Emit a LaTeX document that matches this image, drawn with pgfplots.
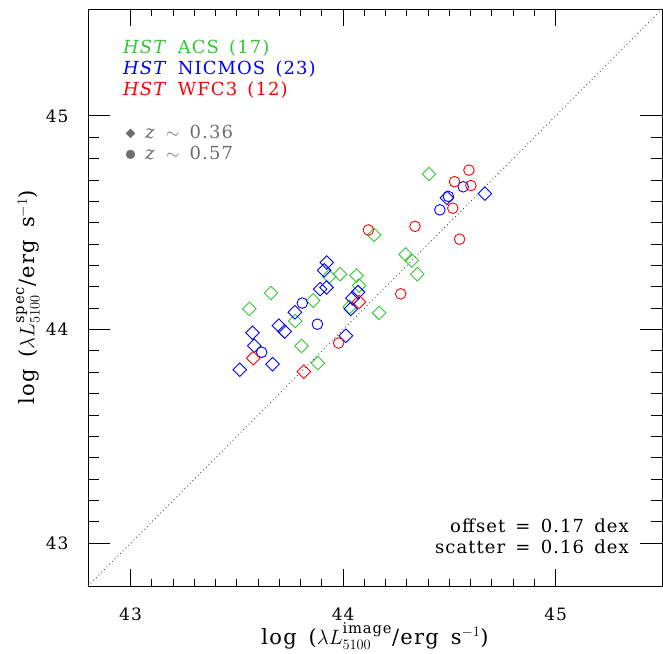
\documentclass[border=0pt]{standalone}
\usepackage{amsmath}
\usepackage{pgfplots}
\pgfplotsset{compat=1.18}
\usepackage{fontspec}
\setmainfont{DejaVu Serif}
\newfontfamily\lsf[LetterSpace=6,WordSpace=1.5]{DejaVu Serif}
\definecolor{cgreen}{RGB}{50,200,50}
\definecolor{cblue}{RGB}{0,0,255}
\definecolor{cred}{RGB}{255,0,0}
\definecolor{cgray}{RGB}{110,110,110}
\begin{document}
\begin{tikzpicture}
\begin{axis}[
  name=ax,
  scale only axis, width=574pt, height=577pt,
  xmin=42.8, xmax=45.5, ymin=42.8, ymax=45.5,
  xtick={43,44,45}, ytick={43,44,45},
  minor tick num=9,
  tick align=inside,
  clip=false,
  axis line style={line width=0.9pt},
  tick style={line width=0.9pt, black},
  major x tick style={/pgfplots/major tick length=17pt},
  minor x tick style={/pgfplots/minor tick length=7.5pt},
  major y tick style={/pgfplots/major tick length=22pt},
  minor y tick style={/pgfplots/minor tick length=11pt},
  /pgf/number format/assume math mode=true,
  xticklabel style={font=\lsf\fontsize{17}{20}\selectfont, yshift=-18pt},
  yticklabel style={font=\lsf\fontsize{17}{20}\selectfont, xshift=-16pt},
  dmk/.style={only marks, mark=square, mark size=4.8pt, mark options={rotate=45, line width=0.9pt}},
  cmk/.style={only marks, mark=o, mark size=5.3pt, mark options={line width=0.9pt}},
]
\addplot[no marks, black!70, line width=1pt, dash pattern=on 0.8pt off 3pt] coordinates {(42.8,42.8) (45.5,45.5)};
% ACS (green)
\addplot[dmk, cgreen] coordinates {
(44.404,44.728) (44.146,44.443) (44.294,44.352) (44.323,44.323) (44.349,44.259)
(44.169,44.078) (43.934,44.248) (43.986,44.259) (44.063,44.253) (44.075,44.206)
(43.661,44.171) (43.859,44.136) (44.031,44.106) (43.559,44.097) (43.775,44.040)
(43.804,43.923) (43.881,43.843)};
% NICMOS (blue)
\addplot[dmk, cblue] coordinates {
(44.667,44.636) (44.488,44.616) (43.923,44.314) (43.911,44.277) (43.892,44.189)
(43.922,44.197) (44.070,44.175) (44.044,44.147) (44.036,44.096) (43.773,44.081)
(43.698,44.018) (43.725,43.991) (43.574,43.985) (43.582,43.924) (44.013,43.971)
(43.668,43.838) (43.514,43.812)};
\addplot[cmk, cblue] coordinates {
(44.565,44.668) (44.495,44.623) (44.455,44.560) (43.808,44.124) (43.879,44.025)
(43.617,43.894)};
% WFC3 (red)
\addplot[cmk, cred] coordinates {
(44.592,44.746) (44.524,44.692) (44.601,44.674) (44.516,44.568) (44.119,44.466)
(44.338,44.483) (44.548,44.423) (44.271,44.167) (43.979,43.937)};
\addplot[dmk, cred] coordinates {
(44.075,44.129) (43.577,43.866) (43.815,43.803)};
% legend symbols
\addplot[only marks, mark=square*, mark size=3.2pt, mark options={rotate=45, fill=cgray, draw=cgray}] coordinates {(43.0,44.918)};
\addplot[only marks, mark=*, mark size=4.4pt, mark options={fill=cgray, draw=cgray}] coordinates {(43.0,44.820)};
\end{axis}
\begin{scope}[font=\lsf\fontsize{18}{20}\selectfont]
\node[anchor=base west, cgreen, inner sep=0pt] at ([shift={(35pt,-44.3pt)}]ax.north west) {\textit{HST} ACS (17)};
\node[anchor=base west, cblue, inner sep=0pt] at ([shift={(35pt,-66pt)}]ax.north west) {\textit{HST} NICMOS (23)};
\node[anchor=base west, cred, inner sep=0pt] at ([shift={(35pt,-87pt)}]ax.north west) {\textit{HST} WFC3 (12)};
\node[anchor=base west, cgray, inner sep=0pt] at ([shift={(57pt,-129.3pt)}]ax.north west) {\textit{z} $\sim$ 0.36};
\node[anchor=base west, cgray, inner sep=0pt] at ([shift={(57pt,-150.3pt)}]ax.north west) {\textit{z} $\sim$ 0.57};
\node[anchor=base east, inner sep=0pt] at ([shift={(-33pt,53.7pt)}]ax.south east) {offset = 0.17 dex};
\node[anchor=base east, inner sep=0pt] at ([shift={(-33pt,32.7pt)}]ax.south east) {scatter = 0.16 dex};
\end{scope}
\node[anchor=base, inner sep=0pt, font=\lsf\fontsize{21}{24}\selectfont] at ([yshift=-58pt]ax.south) {log ($\lambda L^{\text{image}}_{5100}$/erg s$^{-1}$)};
\node[anchor=center, rotate=90, inner sep=0pt, font=\lsf\fontsize{21}{24}\selectfont] at ([xshift=-60pt]ax.west) {log ($\lambda L^{\text{spec}}_{5100}$/erg s$^{-1}$)};
\path ([shift={(-88pt,-67pt)}]ax.south west) rectangle ([shift={(1pt,9pt)}]ax.north east);
\end{tikzpicture}
\end{document}
